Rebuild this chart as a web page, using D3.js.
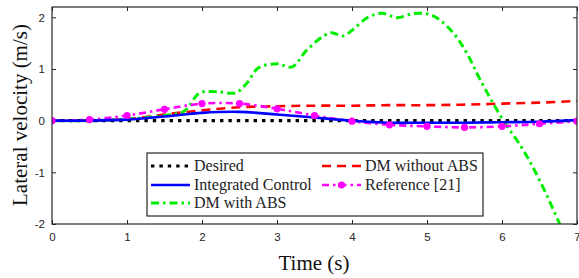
<!DOCTYPE html>
<html><head><meta charset="utf-8">
<script src="https://cdn.jsdelivr.net/npm/d3@7"></script>
<style>body{margin:0;background:#fff}svg{display:block}</style>
</head><body>
<svg id="c" width="579" height="278"></svg>
<script>
const xTicks = [0,1,2,3,4,5,6,7];
const yTicks = [-2,-1,0,1,2];

const desiredT = [0,7];
const desiredV = [0,0];

const integratedT = [0,0.5,1,1.5,2,2.5,3,3.5,4,4.5,5,5.5,6,6.5,7];
const integratedV = [0,0.0,0.02,0.08,0.15,0.17,0.12,0.06,0.0,-0.04,-0.04,-0.04,-0.03,-0.02,0.01];

const withAbsT = [0,0.5,1,1.5,1.75,1.84,1.97,2.2,2.45,2.6,2.75,3.0,3.2,3.4,3.71,3.88,4.01,4.2,4.4,4.6,4.81,5.0,5.13,5.35,5.53,5.71,6.01,6.28,6.5,6.77];
const withAbsV = [0,0.0,0.03,0.1,0.17,0.31,0.54,0.56,0.54,0.73,1.02,1.1,1.04,1.37,1.70,1.64,1.76,1.99,2.08,1.99,2.07,2.07,1.99,1.70,1.31,0.79,0.02,-0.56,-1.15,-2.0];

const withoutAbsT = [0,0.5,1,1.5,2,2.5,3,3.5,4,4.5,5,5.5,6,6.5,7];
const withoutAbsV = [0,0.0,0.03,0.12,0.2,0.26,0.28,0.29,0.29,0.3,0.3,0.31,0.33,0.35,0.38];

const referenceT = [0,0.5,1,1.5,2,2.5,3,3.5,4,4.5,5,5.5,6,6.5,7];
const referenceV = [0,0.02,0.1,0.22,0.33,0.33,0.23,0.1,-0.01,-0.08,-0.11,-0.13,-0.11,-0.06,-0.01];

const svg = d3.select("#c");
const L=52,R=577,T=7,B=224;
const x = d3.scaleLinear().domain([0,7]).range([L,R]);
const y = d3.scaleLinear().domain([-2,2.2]).range([B,T]);
const axc = "#262626";
const serif = "'Liberation Serif','Times New Roman',serif";

svg.append("defs").append("clipPath").attr("id","clip").append("rect")
  .attr("x",L).attr("y",T).attr("width",R-L).attr("height",B-T);

// axes
const gx = svg.append("g").attr("transform",`translate(0,${B})`)
  .call(d3.axisBottom(x).tickValues(xTicks).tickSize(-4).tickPadding(9).tickFormat(d3.format("d")));
const gxt = svg.append("g").attr("transform",`translate(0,${T})`)
  .call(d3.axisTop(x).tickValues(xTicks).tickSize(-4).tickFormat(""));
const gy = svg.append("g").attr("transform",`translate(${L},0)`)
  .call(d3.axisLeft(y).tickValues(yTicks).tickSize(-4).tickPadding(7).tickFormat(d3.format("d")));
const gyr = svg.append("g").attr("transform",`translate(${R},0)`)
  .call(d3.axisRight(y).tickValues(yTicks).tickSize(-4).tickFormat(""));
[gx,gxt,gy,gyr].forEach(g=>{
  g.selectAll("path").remove();
  g.selectAll("line").attr("stroke",axc);
  g.selectAll("text").attr("fill",axc).style("font-family","Arial, 'Liberation Sans', sans-serif").style("font-size","11.5px");
});
gy.selectAll("text").text(d=>d<0?"-"+Math.abs(d):d);

const plot = svg.append("g").attr("clip-path","url(#clip)");
function series(ts, vs){ return ts.map((t,i)=>[t,vs[i]]); }
const lineC = d3.line().x(d=>x(d[0])).y(d=>y(d[1])).curve(d3.curveCatmullRom.alpha(0.5));

const styles = {
  desired:{stroke:"#000",w:3.2,dash:"3.4,5"},
  integrated:{stroke:"#0000ff",w:2.6,dash:null},
  withAbs:{stroke:"#00ee00",w:3,dash:"8,4,2.5,4"},
  withoutAbs:{stroke:"#ff0000",w:2.6,dash:"9,6"},
  reference:{stroke:"#ff00ff",w:2.6,dash:"7,4,2.5,4"}
};
function draw(data, st){
  plot.append("path").datum(data).attr("d",lineC).attr("fill","none")
    .attr("stroke",st.stroke).attr("stroke-width",st.w)
    .attr("stroke-dasharray",st.dash);
}
draw(series(withoutAbsT,withoutAbsV),styles.withoutAbs);
draw(series(withAbsT,withAbsV),styles.withAbs);
draw(series(referenceT,referenceV),styles.reference);
draw(series(desiredT,desiredV),styles.desired);
draw(series(integratedT,integratedV),styles.integrated);
plot.selectAll("circle.ref").data(series(referenceT,referenceV)).enter().append("circle")
  .attr("cx",d=>x(d[0])).attr("cy",d=>y(d[1])).attr("r",3.6).attr("fill","#ff00ff");

// frame
svg.append("rect").attr("x",L).attr("y",T).attr("width",R-L).attr("height",B-T)
  .attr("fill","none").attr("stroke",axc).attr("stroke-width",1.2);

// legend
const lg = svg.append("g");
lg.append("rect").attr("x",147).attr("y",153).attr("width",336).attr("height",63)
  .attr("fill","#fff").attr("stroke",axc).attr("stroke-width",1.2);
const items = [
  {name:"Desired",st:styles.desired,x:151,y:166},
  {name:"Integrated Control",st:styles.integrated,x:151,y:185},
  {name:"DM with ABS",st:styles.withAbs,x:151,y:203},
  {name:"DM without ABS",st:styles.withoutAbs,x:322,y:166},
  {name:"Reference [21]",st:styles.reference,x:322,y:185,marker:true}
];
items.forEach(it=>{
  lg.append("line").attr("x1",it.x).attr("x2",it.x+39).attr("y1",it.y).attr("y2",it.y)
    .attr("stroke",it.st.stroke).attr("stroke-width",it.st.w).attr("stroke-dasharray",it.st.dash);
  if(it.marker) lg.append("circle").attr("cx",it.x+19.5).attr("cy",it.y).attr("r",3.6).attr("fill",it.st.stroke);
  lg.append("text").attr("x",it.x+43).attr("y",it.y+5).text(it.name)
    .attr("font-family",serif).attr("font-size","16px").attr("fill","#222");
});

// axis titles
svg.append("text").attr("x",314).attr("y",270).attr("text-anchor","middle").text("Time (s)")
  .attr("font-family",serif).attr("font-size","21px").attr("fill","#111");
svg.append("text").attr("transform","translate(27,115) rotate(-90)").attr("text-anchor","middle")
  .text("Lateral velocity (m/s)")
  .attr("font-family",serif).attr("font-size","21px").attr("fill","#111");
</script>
</body></html>
